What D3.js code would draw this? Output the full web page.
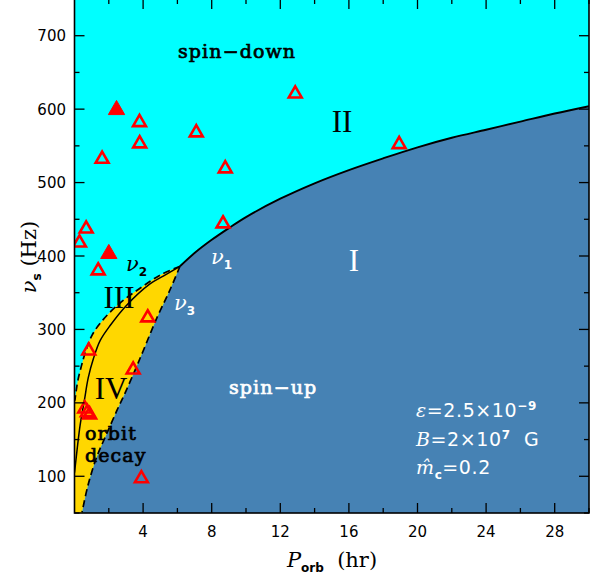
<!DOCTYPE html>
<html><head><meta charset="utf-8">
<script src="https://cdn.jsdelivr.net/npm/d3@7"></script>
<style>body{margin:0;background:#fff}</style>
</head><body>
<svg id="c" width="595" height="582"></svg>
<script>
// ---- data ----
const xMajorTicks = [4, 8, 12, 16, 20, 24, 28];
const xMinorTicks = [2, 6, 10, 14, 18, 22, 26, 30];
const yMajorTicks = [100, 200, 300, 400, 500, 600, 700];
const yMinorTicks = [50, 150, 250, 350, 450, 550, 650, 750];

// nu1 boundary (solid): spin-up / spin-down
const nu1P = [6.15, 7, 8, 9, 10, 12, 14, 16, 18, 20, 22, 24, 26, 28, 30];
const nu1V = [386, 404, 422, 438, 453, 478, 499, 517, 533, 548, 561, 572, 583, 594, 604];
// nu2 boundary (dashed, upper-left edge of yellow)
const nu2P = [6.15, 5.0, 3.82, 2.65, 1.66, 1.02, 0.65, 0.4, 0.2, 0.09, 0.02];
const nu2V = [386, 374, 356, 336, 313, 292, 270, 250, 231, 215, 203];
// middle solid curve (III / IV)
const midP = [6.15, 5.2, 4.4, 3.0, 2.1, 1.5, 1.1, 0.8, 0.58, 0.33, 0.15, 0.05, 0.0];
const midV = [386, 373, 362, 332, 306, 285, 260, 234, 204, 170, 136, 115, 105];
// nu3 boundary (dashed, lower-right edge of yellow)
const nu3P = [6.15, 5.57, 4.81, 3.99, 3.52, 2.94, 2.48, 1.84, 1.29, 0.79, 0.44];
const nu3V = [386, 354, 316, 270, 244, 213, 190, 156, 126, 88, 51];

// observed pulsars
const openP = [3.79, 7.1, 3.8, 1.61, 8.79, 12.87, 18.93, 8.66, 0.68, 0.29, 1.38, 4.27, 0.83, 3.42, 0.6, 0.75, 0.88, 3.9];
const openV = [582, 568, 553, 532, 519, 621, 552, 444, 437, 418, 380, 316, 271, 245, 192, 187, 184, 97];
const fillP = [2.45, 2.0];
const fillV = [599, 403];

// ---- layout ----
const svg = d3.select("#c");
const x = d3.scaleLinear().domain([0, 30]).range([74.5, 589]);
const y = d3.scaleLinear().domain([50, 750]).range([513, -1]);
const [x0, x1] = x.range(), [y0, y1] = y.range();

const zip = (a, b) => a.map((d, i) => [d, b[i]]);
const nu1 = zip(nu1P, nu1V), nu2 = zip(nu2P, nu2V), mid = zip(midP, midV), nu3 = zip(nu3P, nu3V);

svg.append("defs").append("clipPath").attr("id", "clip")
  .append("rect").attr("x", x0).attr("y", y1).attr("width", x1 - x0).attr("height", y0 - y1);

const g = svg.append("g").attr("clip-path", "url(#clip)");
g.append("rect").attr("x", x0).attr("y", y1).attr("width", x1 - x0).attr("height", y0 - y1).attr("fill", "#00FFFF");

const smooth = d3.line().x(d => x(d[0])).y(d => y(d[1])).curve(d3.curveCatmullRom.alpha(0.5));
const dom = x.domain(), ydom = y.domain();
const tail = s => s.slice(1);
const nu3r = nu3.slice().reverse();
const blueD = smooth(nu3r) + "L" + tail(smooth(nu1)) + "L" + x(dom[1] + 1) + "," + y(nu1[nu1.length - 1][1]) +
  "L" + x(dom[1] + 1) + "," + y(ydom[0] - 10) + "L" + x(nu3r[0][0]) + "," + y(ydom[0] - 10) + "Z";
g.append("path").attr("d", blueD).attr("fill", "#4682B4");
const yelD = smooth(nu2) + "L" + x(dom[0] - 1) + "," + y(nu2[nu2.length - 1][1]) +
  "L" + x(dom[0] - 1) + "," + y(ydom[0] - 10) + "L" + x(nu3r[0][0]) + "," + y(ydom[0] - 10) +
  "L" + tail(smooth(nu3r)) + "Z";
g.append("path").attr("d", yelD).attr("fill", "#FFD700");

g.append("path").attr("d", smooth(nu1)).attr("fill", "none").attr("stroke", "#000").attr("stroke-width", 1.9);
g.append("path").attr("d", smooth(mid)).attr("fill", "none").attr("stroke", "#000").attr("stroke-width", 1.5);
g.append("path").attr("d", smooth(nu2)).attr("fill", "none").attr("stroke", "#000").attr("stroke-width", 1.7).attr("stroke-dasharray", "7,4");
g.append("path").attr("d", smooth(nu3)).attr("fill", "none").attr("stroke", "#000").attr("stroke-width", 1.7).attr("stroke-dasharray", "7,4");

// triangles
const tri = d3.symbol().type(d3.symbolTriangle).size(72);
const triF = d3.symbol().type(d3.symbolTriangle).size(115);
g.selectAll(".op").data(zip(openP, openV)).enter().append("path")
  .attr("d", tri).attr("transform", d => `translate(${x(d[0])},${y(d[1])})`)
  .attr("fill", "none").attr("stroke", "#FF0000").attr("stroke-width", 2.6);
g.selectAll(".fp").data(zip(fillP, fillV)).enter().append("path")
  .attr("d", triF).attr("transform", d => `translate(${x(d[0])},${y(d[1])})`)
  .attr("fill", "#FF0000").attr("stroke", "#FF0000").attr("stroke-width", 1);

// frame & ticks
const ax = svg.append("g").attr("stroke", "#000");
ax.append("rect").attr("x", x0).attr("y", y1).attr("width", x1 - x0).attr("height", y0 - y1)
  .attr("fill", "none").attr("stroke-width", 1.6);
const tk = (arr, len) => arr.forEach(v => {
  ax.append("line").attr("x1", x(v)).attr("x2", x(v)).attr("y1", y0).attr("y2", y0 - len).attr("stroke-width", 1.3);
  ax.append("line").attr("x1", x(v)).attr("x2", x(v)).attr("y1", y1).attr("y2", y1 + len).attr("stroke-width", 1.3);
});
tk(xMajorTicks, 10); tk(xMinorTicks, 5);
const tky = (arr, len) => arr.forEach(v => {
  ax.append("line").attr("y1", y(v)).attr("y2", y(v)).attr("x1", x0).attr("x2", x0 + len).attr("stroke-width", 1.3);
  ax.append("line").attr("y1", y(v)).attr("y2", y(v)).attr("x1", x1).attr("x2", x1 - len).attr("stroke-width", 1.3);
});
tky(yMajorTicks, 10); tky(yMinorTicks, 5);

svg.selectAll(".xl").data(xMajorTicks).enter().append("text")
  .attr("x", d => x(d)).attr("y", 537).attr("text-anchor", "middle")
  .attr("font-family", "DejaVu Sans").attr("font-size", 15).text(d => d);
svg.selectAll(".yl").data(yMajorTicks).enter().append("text")
  .attr("x", 66).attr("y", d => y(d) + 5.5).attr("text-anchor", "end")
  .attr("font-family", "DejaVu Sans").attr("font-size", 15).text(d => d);

// axis titles
const xt = svg.append("text").attr("x", 332).attr("y", 567).attr("text-anchor", "middle")
  .attr("font-family", "DejaVu Serif").attr("font-size", 21);
xt.append("tspan").attr("font-style", "italic").text("P");
xt.append("tspan").attr("font-family", "DejaVu Sans").attr("font-weight", "bold").attr("font-size", 12).attr("dy", 5).text("orb");
xt.append("tspan").attr("dy", -5).text("\u00a0\u00a0(hr)");

const yt = svg.append("text").attr("transform", "translate(36,257) rotate(-90)").attr("text-anchor", "middle")
  .attr("font-family", "DejaVu Serif").attr("font-size", 21);
yt.append("tspan").attr("font-style", "italic").text("\u03bd");
yt.append("tspan").attr("font-family", "DejaVu Sans").attr("font-weight", "bold").attr("font-size", 12).attr("dy", 5).text("s");
yt.append("tspan").attr("dy", -5).text("\u00a0(Hz)");

// region labels
const lab = (t, px, py, o) => {
  const e = svg.append("text").attr("x", px).attr("y", py).text(t);
  Object.entries(o).forEach(([k, v]) => e.attr(k, v));
  return e;
};
const hw = {"font-family": "DejaVu Serif", "font-size": 19, "letter-spacing": 1.1, "stroke-width": 0.7};
lab("spin\u2212down", 178, 58, {...hw, fill: "#000", stroke: "#000"});
lab("spin\u2212up", 229, 394, {...hw, fill: "#fff", stroke: "#fff"});
lab("orbit", 85, 440, {...hw, fill: "#000", stroke: "#000"});
lab("decay", 85, 462, {...hw, fill: "#000", stroke: "#000"});
const ser = {"font-family": "Liberation Serif", "font-size": 31};
lab("II", 342, 132, {...ser, "text-anchor": "middle"});
lab("I", 354, 271, {...ser, "text-anchor": "middle", fill: "#fff"});
lab("III", 119, 308, {...ser, "text-anchor": "middle"});
lab("IV", 111, 399, {...ser, "text-anchor": "middle"});

const nuLab = (sub, px, py, col) => {
  const e = svg.append("text").attr("x", px).attr("y", py).attr("fill", col)
    .attr("font-family", "DejaVu Serif").attr("font-style", "italic").attr("font-size", 21).text("\u03bd");
  e.append("tspan").attr("font-family", "DejaVu Sans").attr("font-style", "normal").attr("font-weight", "bold")
    .attr("font-size", 12).attr("dy", 5).text(sub);
};
nuLab("1", 211, 264, "#fff");
nuLab("2", 126, 271, "#000");
nuLab("3", 174, 310, "#fff");

// parameter annotation
const ann = (py, parts) => {
  const e = svg.append("text").attr("x", 416).attr("y", py).attr("fill", "#fff")
    .attr("font-family", "DejaVu Sans").attr("font-size", 19).attr("letter-spacing", 0.6);
  parts.forEach(p => {
    const s = e.append("tspan").text(p.t);
    if (p.it) s.attr("font-family", "DejaVu Serif").attr("font-style", "italic");
    if (p.dy) s.attr("dy", p.dy);
    if (p.fs) s.attr("font-size", p.fs);
    if (p.fw) s.attr("font-weight", p.fw);
  });
};
ann(417, [{t: "\u03b5", it: 1}, {t: "=2.5\u00d710"}, {t: "\u22129", dy: -7, fs: 12, fw: "bold"}]);
ann(446, [{t: "B", it: 1}, {t: "=2\u00d710"}, {t: "7", dy: -7, fs: 12, fw: "bold"}, {t: "\u00a0\u00a0G", dy: 7}]);
ann(474, [{t: "m\u0302", it: 1}, {t: "c", dy: 5, fs: 12, fw: "bold"}, {t: "=0.2", dy: -5}]);
</script>
</body></html>
